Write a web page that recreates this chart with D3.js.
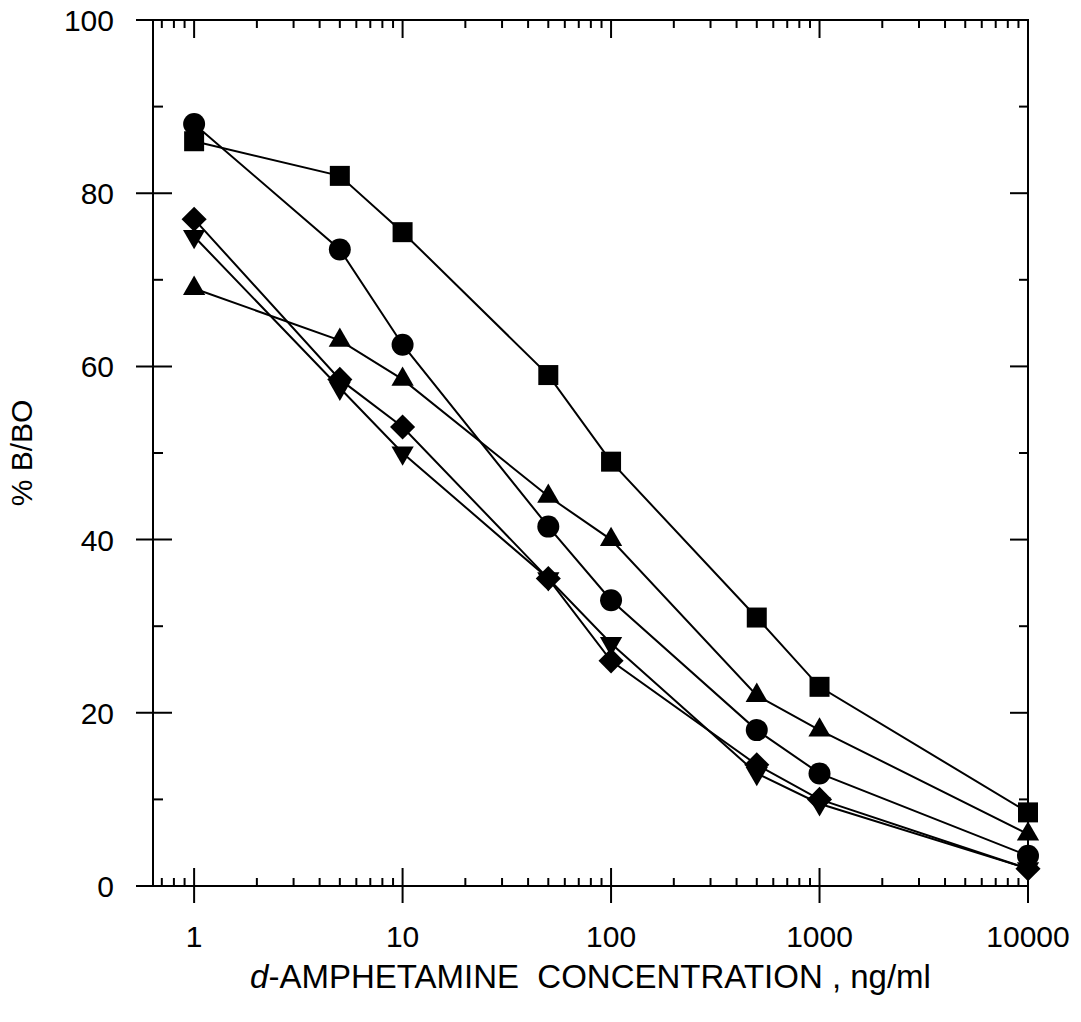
<!DOCTYPE html>
<html>
<head>
<meta charset="utf-8">
<script src="https://cdn.jsdelivr.net/npm/d3@7"></script>
<style>
  body { margin: 0; background: #fff; }
  text { font-family: Arial, "Liberation Sans", sans-serif; fill: #000; }
</style>
</head>
<body>
<svg id="chart" width="1081" height="1022"></svg>
<script>
// concentrations (ng/ml)
const conc = [1, 5, 10, 50, 100, 500, 1000, 10000];

// % B/BO for each series
const squareVals = [86, 82, 75.5, 59, 49, 31, 23, 8.5];
const circleVals = [88, 73.5, 62.5, 41.5, 33, 18, 13, 3.5];
const triUpVals = [69, 63, 58.5, 45, 40, 22, 18, 6];
const triDownVals = [75, 57.5, 50, 35.5, 28, 13, 9.5, 2];
const diamondVals = [77, 58.5, 53, 35.5, 26, 14, 10, 2];

const xTickLabels = [1, 10, 100, 1000, 10000];
const yTickLabels = [0, 20, 40, 60, 80, 100];

const series = [
    {name: 'square', vals: squareVals},
    {name: 'triUp', vals: triUpVals},
    {name: 'circle', vals: circleVals},
    {name: 'triDown', vals: triDownVals},
    {name: 'diamond', vals: diamondVals}
];

let svg = d3.select("#chart");
let pLeft = 153, pRight = 1028, pTop = 20, pBottom = 886;

let x = d3.scaleLog().domain([0.635, 10000]).range([pLeft, pRight]);
let y = d3.scaleLinear().domain([0, 100]).range([pBottom, pTop]);

// frame
svg.append("rect")
    .attr("x", pLeft).attr("y", pTop)
    .attr("width", pRight - pLeft).attr("height", pBottom - pTop)
    .attr("fill", "none").attr("stroke", "#000").attr("stroke-width", 2);

// x ticks (log minor)
let minorX = [];
for (let dec = 0.1; dec <= 1000; dec *= 10) {
    for (let m = 2; m <= 9; m++) {
        let v = +(m * dec).toPrecision(3);
        if (v >= 0.635 && v < 10000 && xTickLabels.indexOf(v) < 0) minorX.push(v);
    }
}
let tg = svg.append("g").attr("stroke", "#000").attr("stroke-width", 2);
minorX.forEach(v => {
    tg.append("line").attr("x1", x(v)).attr("x2", x(v)).attr("y1", pBottom).attr("y2", pBottom - 8);
    tg.append("line").attr("x1", x(v)).attr("x2", x(v)).attr("y1", pTop).attr("y2", pTop + 8);
});
xTickLabels.forEach(v => {
    tg.append("line").attr("x1", x(v)).attr("x2", x(v)).attr("y1", pBottom + 17).attr("y2", pBottom - 18);
    tg.append("line").attr("x1", x(v)).attr("x2", x(v)).attr("y1", pTop).attr("y2", pTop + 18);
});

// y ticks
d3.range(10, 100, 20).forEach(v => {
    tg.append("line").attr("x1", pLeft).attr("x2", pLeft + 10).attr("y1", y(v)).attr("y2", y(v));
    tg.append("line").attr("x1", pRight).attr("x2", pRight - 9).attr("y1", y(v)).attr("y2", y(v));
});
yTickLabels.forEach(v => {
    tg.append("line").attr("x1", pLeft - 17).attr("x2", pLeft + 19).attr("y1", y(v)).attr("y2", y(v));
    tg.append("line").attr("x1", pRight).attr("x2", pRight - 18).attr("y1", y(v)).attr("y2", y(v));
});

// tick labels
svg.selectAll(".xl").data(xTickLabels).enter().append("text")
    .attr("x", d => x(d)).attr("y", 947)
    .attr("text-anchor", "middle").attr("font-size", 30)
    .text(d => d);
svg.selectAll(".yl").data(yTickLabels).enter().append("text")
    .attr("x", 114).attr("y", d => y(d) + 11)
    .attr("text-anchor", "end").attr("font-size", 30)
    .text(d => d);

// axis titles
let xt = svg.append("text")
    .attr("x", (pLeft + pRight) / 2).attr("y", 988)
    .attr("text-anchor", "middle").attr("font-size", 33)
    .attr("xml:space", "preserve");
xt.append("tspan").attr("font-style", "italic").text("d");
xt.append("tspan").text("-AMPHETAMINE  CONCENTRATION , ng/ml");

svg.append("text")
    .attr("transform", "translate(32," + ((pTop + pBottom) / 2) + ") rotate(-90)")
    .attr("text-anchor", "middle").attr("font-size", 30)
    .text("% B/BO");

// lines
let line = d3.line().x(d => x(d[0])).y(d => y(d[1]));
series.forEach(s => {
    svg.append("path")
        .attr("d", line(conc.map((c, i) => [c, s.vals[i]])))
        .attr("fill", "none").attr("stroke", "#000").attr("stroke-width", 2);
});

// markers
let shapes = {
    square: {type: d3.symbolSquare, size: 400, rot: 0},
    circle: {type: d3.symbolCircle, size: 380, rot: 0},
    triUp: {type: d3.symbolTriangle, size: 215, rot: 0},
    triDown: {type: d3.symbolTriangle, size: 215, rot: 180},
    diamond: {type: d3.symbolSquare, size: 315, rot: 45}
};
series.forEach(s => {
    let sh = shapes[s.name];
    svg.append("g").selectAll("path")
        .data(conc.map((c, i) => [c, s.vals[i]]))
        .enter().append("path")
        .attr("d", d3.symbol().type(sh.type).size(sh.size))
        .attr("transform", d => "translate(" + x(d[0]) + "," + y(d[1]) + ") rotate(" + sh.rot + ")")
        .attr("fill", "#000");
});
</script>
</body>
</html>
